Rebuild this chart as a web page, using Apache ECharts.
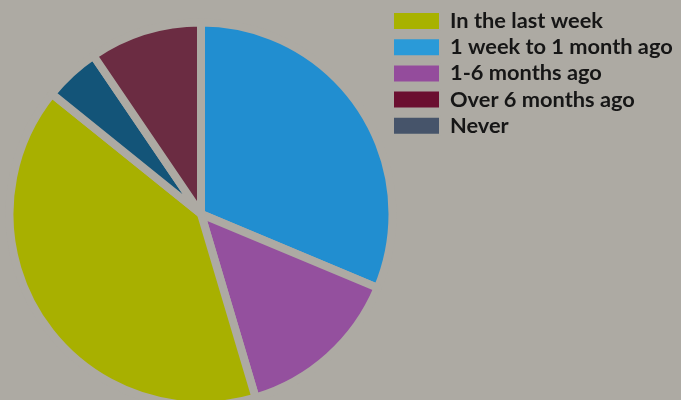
<!DOCTYPE html>
<html>
<head>
<meta charset="utf-8">
<script src="https://cdn.jsdelivr.net/npm/echarts@6/dist/echarts.min.js"></script>
<style>
  html, body { margin: 0; padding: 0; background: #adaaa3; }
  #chart { width: 681px; height: 400px; }
</style>
</head>
<body>
<div id="chart"></div>
<script>
// Legend order and swatch colours
const legendNames = ['In the last week', '1 week to 1 month ago', '1-6 months ago', 'Over 6 months ago', 'Never'];
const legendColors = ['#a8b200', '#2a9ad8', '#944c9c', '#6b0f30', '#46546a'];

// Slices, clockwise from twelve o'clock (share of respondents, %)
const sliceNames = ['1 week to 1 month ago', '1-6 months ago', 'In the last week', 'Never', 'Over 6 months ago'];
const sliceValues = [31.3, 14.1, 40.4, 4.7, 9.5];
const sliceColors = ['#218ed0', '#94509e', '#a8b000', '#135478', '#6b2c42'];

const BG = '#adaaa3';

const chart = echarts.init(document.getElementById('chart'));
chart.setOption({
  backgroundColor: BG,
  animation: false,
  legend: {
    orient: 'vertical',
    left: 387,
    top: 5,
    itemWidth: 47,
    itemHeight: 18,
    itemGap: 4.2,
    icon: 'rect',
    selectedMode: false,
    textStyle: {
      fontFamily: 'Lato',
      fontWeight: 'bold',
      fontSize: 21.8,
      color: '#161616',
      lineHeight: 18,
      padding: [0, 0, 0, 5]
    },
    data: legendNames.map((n, i) => ({ name: n, itemStyle: { color: legendColors[i] } }))
  },
  series: [{
    type: 'pie',
    center: [201, 214],
    radius: [0, 191.5],
    startAngle: 90,
    clockwise: true,
    label: { show: false },
    labelLine: { show: false },
    emphasis: { disabled: true },
    itemStyle: { borderColor: BG, borderWidth: 8 },
    data: sliceNames.map((n, i) => ({
      name: n,
      value: sliceValues[i],
      itemStyle: { color: sliceColors[i] }
    }))
  }]
});
</script>
</body>
</html>
